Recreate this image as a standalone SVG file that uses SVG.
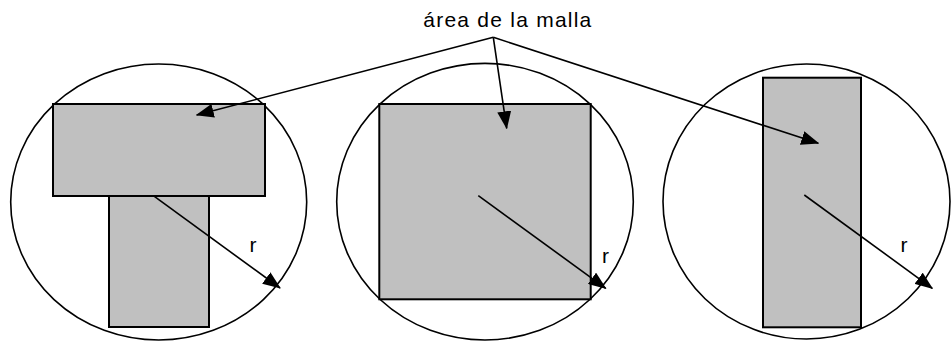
<svg xmlns="http://www.w3.org/2000/svg" width="951" height="341" viewBox="0 0 951 341">
<style>
.circ{fill:none;stroke:#000;stroke-width:1.6}
.area{fill:#c0c0c0;stroke:#000;stroke-width:2}
.conn line{stroke:#000;stroke-width:1.6;marker-end:url(#ah)}
text{font-family:"Liberation Sans",Arial,sans-serif;font-size:21px;fill:#000}
</style>
<defs>
<marker id="ah" markerUnits="userSpaceOnUse" markerWidth="18" markerHeight="14" viewBox="0 0 18 14" refX="17" refY="7" orient="auto">
<path d="M0,0 L18,7 L0,14 z" fill="#000"/>
</marker>
</defs>
<g id="shape1">
<ellipse class="circ" cx="158.7" cy="202" rx="148" ry="138"/>
<rect class="area" x="53" y="104" width="212" height="92"/>
<rect class="area" x="109" y="196" width="100" height="131"/>
<text x="249.5" y="252">r</text>
</g>
<g id="shape2">
<ellipse class="circ" cx="485" cy="201.7" rx="148.3" ry="138.3"/>
<rect class="area" x="379.3" y="104" width="211.4" height="195.3"/>
<text x="602" y="263">r</text>
</g>
<g id="shape3">
<ellipse class="circ" cx="806.5" cy="201.5" rx="143.5" ry="137.5"/>
<rect class="area" x="763" y="77.7" width="98" height="249.6"/>
<text x="900.5" y="252">r</text>
</g>
<g id="label">
<text x="423.3" y="27.3" textLength="168" lengthAdjust="spacing">área de la malla</text>
</g>
<g id="connectors" class="conn">
<line x1="493.3" y1="37.3" x2="196.7" y2="115"/>
<line x1="493.3" y1="37.3" x2="506.7" y2="128.3"/>
<line x1="493.3" y1="37.3" x2="818.3" y2="143.3"/>
<line x1="153.3" y1="195.7" x2="280" y2="288"/>
<line x1="478.3" y1="195.7" x2="605.7" y2="288.3"/>
<line x1="804.3" y1="195" x2="932.3" y2="288.3"/>
</g>
</svg>
